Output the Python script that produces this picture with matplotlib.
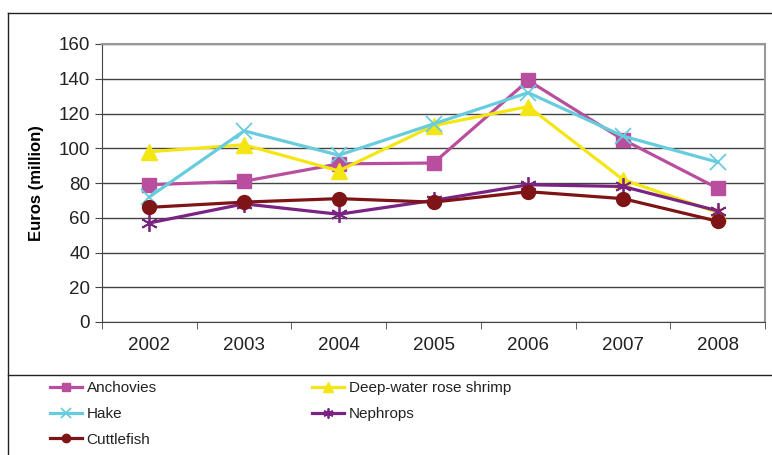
import matplotlib.pyplot as plt
from matplotlib.lines import Line2D

plt.rcParams['font.family'] = ['Liberation Sans', 'DejaVu Sans']

years = ['2002', '2003', '2004', '2005', '2006', '2007', '2008']
anchovies = [79, 81, 91, 91.5, 139, 105, 77]
shrimp = [98, 102, 87, 113, 124, 82, 63]
hake = [72, 110, 96, 114, 132, 107, 92]
nephrops = [57, 68, 62, 70, 79, 78, 64]
cuttlefish = [66, 69, 71, 69, 75, 71, 58]

fig = plt.figure(figsize=(7.72, 4.55), dpi=100)
W, H = 772, 455
ax = fig.add_axes([102 / W, 1 - 322 / H, 663 / W, 278 / H])

x = range(len(years))
lw = 2.3
h_anch, = ax.plot(x, anchovies, color='#B94E9E', lw=lw, marker='s', ms=10, label='Anchovies')
h_shr, = ax.plot(x, shrimp, color='#F4E614', lw=lw, marker='^', ms=12, label='Deep-water rose shrimp')
h_hake, = ax.plot(x, hake, color='#67CCDD', lw=lw, marker='x', ms=11, mew=1.3, label='Hake')
h_neph, = ax.plot(x, nephrops, color='#7B2382', lw=lw, marker=(6, 2, 0), ms=12, mew=1.3, label='Nephrops')
h_cut, = ax.plot(x, cuttlefish, color='#7F1416', lw=lw, marker='o', ms=10, label='Cuttlefish')

ax.set_ylim(0, 160)
ax.set_yticks(range(0, 161, 20))
ax.set_xlim(-0.5, 6.5)
ax.set_xticks(list(x))
ax.set_xticklabels(years)
ax.set_xticks([i - 0.5 for i in range(8)], minor=True)
ax.tick_params(axis='x', which='major', length=0, pad=11, labelsize=13.5, colors='#222222')
ax.tick_params(axis='x', which='minor', length=5, color='#444444')
ax.tick_params(axis='y', length=5, labelsize=13.5, colors='#222222', color='#444444')
ax.grid(axis='y', color='#444444', lw=1)
ax.set_axisbelow(True)
for s in ['top', 'right']:
    ax.spines[s].set_color('#999999')
    ax.spines[s].set_linewidth(1.5)
for s in ['left', 'bottom']:
    ax.spines[s].set_color('#444444')
ax.set_ylabel('Euros (million)', fontsize=12, fontweight='bold', labelpad=11)

# outer frame and legend separator
fig.add_artist(Line2D([8 / W, 1], [1 - 13 / H, 1 - 13 / H], color='#222222', lw=1))
fig.add_artist(Line2D([8 / W, 8 / W], [0, 1 - 13 / H], color='#222222', lw=1))
fig.add_artist(Line2D([8 / W, 1], [1 - 375 / H, 1 - 375 / H], color='#222222', lw=1))

leg_kw = dict(loc='upper left', frameon=False, fontsize=11, handlelength=2.1,
              handletextpad=0.3, labelspacing=0.78, markerscale=0.6,
              borderpad=0, borderaxespad=0)
left_h = [h_anch, h_hake, h_cut]
right_h = [h_shr, h_neph]
leg1 = fig.legend(handles=left_h, labels=[h.get_label() for h in left_h],
                  bbox_to_anchor=(50 / W, 1 - 381 / H), **leg_kw)
leg2 = fig.legend(handles=right_h, labels=[h.get_label() for h in right_h],
                  bbox_to_anchor=(312 / W, 1 - 381 / H), **leg_kw)
for t in leg1.get_texts() + leg2.get_texts():
    t.set_color('#222222')

fig.savefig('out.png', dpi=100)
